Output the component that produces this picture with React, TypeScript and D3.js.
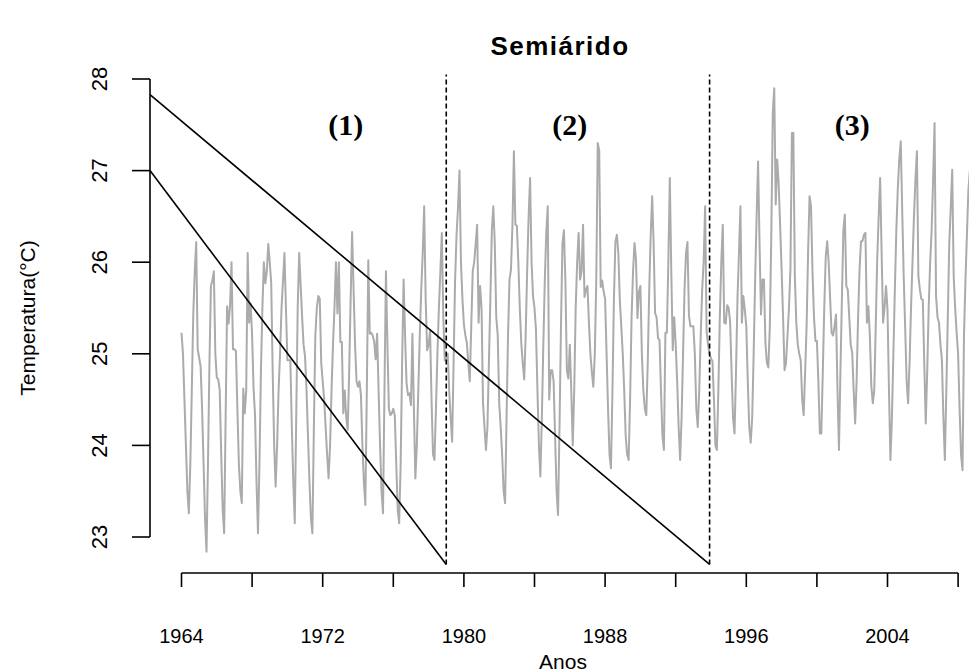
import React from 'react';
import * as d3 from 'd3';

// ---- data (monthly mean temperature, Jan 1964 onward) ----
const startYear = 1964;
const temperature: number[] = [
  // 1964
  25.23, 25.0, 24.5, 24.0, 23.5, 23.26, 23.8, 24.6, 25.43, 25.9, 26.22, 25.05,
  // 1965
  24.96, 24.86, 24.4, 23.8, 23.2, 22.84, 23.8, 24.9, 25.74, 25.8, 25.9, 25.0,
  // 1966
  24.74, 24.72, 24.6, 23.9, 23.3, 23.04, 24.3, 25.52, 25.33, 25.52, 26.0, 25.05,
  // 1967
  25.05, 25.03, 24.4, 23.8, 23.5, 23.37, 24.62, 24.35, 24.6, 26.1, 25.34, 25.55,
  // 1968
  25.2, 24.62, 24.33, 23.6, 23.04, 23.8, 24.8, 25.5, 26.0, 25.77, 25.9, 26.2,
  // 1969
  26.0, 25.77, 24.8, 24.0, 23.55, 24.0, 24.6, 25.0, 25.5, 25.8, 26.1, 25.5,
  // 1970
  24.93, 24.93, 24.93, 24.2, 23.6, 23.15, 24.3, 25.5, 26.1, 25.75, 25.4, 25.1,
  // 1971
  24.97, 24.6, 24.1, 23.6, 23.2, 23.04, 24.2, 25.2, 25.5, 25.63, 25.6, 24.9,
  // 1972
  24.7, 24.5, 24.2, 23.9, 23.64, 24.0, 24.6, 25.1, 25.5, 26.0, 25.44, 26.0,
  // 1973
  25.13, 25.13, 24.35, 24.6, 24.3, 24.17, 24.8, 25.6, 26.33, 25.7, 25.1, 24.7,
  // 1974
  24.64, 24.7, 24.55, 24.0, 23.6, 23.35, 24.6, 26.02, 25.22, 25.23, 25.2, 25.13,
  // 1975
  24.94, 25.22, 24.6, 24.0, 23.5, 23.26, 24.6, 25.9, 25.1, 24.4, 24.33, 24.35,
  // 1976
  24.4, 24.33, 23.8, 23.3, 23.15, 23.8, 24.9, 25.81, 25.2, 24.68, 24.55, 24.57,
  // 1977
  24.44, 25.22, 24.4, 23.64, 24.0, 24.6, 25.2, 25.7, 26.1, 26.61, 25.6, 25.04,
  // 1978
  25.1, 25.25, 24.5, 23.9, 23.84, 24.4, 25.0, 25.5, 25.9, 26.32, 25.4, 24.93,
  // 1979
  24.95, 25.0, 24.6, 24.3, 24.04, 24.9, 25.8, 26.3, 26.6, 27.0, 26.0, 25.6,
  // 1980
  25.32, 25.2, 25.12, 24.9, 24.7, 25.3, 25.9, 26.0, 26.2, 26.41, 25.34, 25.74,
  // 1981
  25.5, 24.46, 24.2, 23.95, 24.2, 24.9, 25.6, 26.35, 26.61, 26.2, 25.4, 25.2,
  // 1982
  24.46, 24.2, 23.9, 23.5, 23.37, 24.3, 25.2, 25.81, 25.92, 26.4, 27.21, 26.41,
  // 1983
  26.4, 26.0, 25.5, 25.12, 24.9, 24.72, 25.2, 25.9, 26.5, 26.92, 26.0, 25.63,
  // 1984
  25.5, 25.26, 24.6, 24.0, 23.66, 24.3, 25.1, 25.8, 26.32, 26.61, 24.5, 24.82,
  // 1985
  24.82, 24.7, 24.1, 23.5, 23.24, 24.2, 25.3, 26.2, 26.35, 25.8, 24.82, 24.73,
  // 1986
  25.1, 24.6, 24.0, 24.6, 25.5, 26.0, 26.32, 25.81, 25.9, 26.41, 25.62, 25.7,
  // 1987
  25.74, 25.34, 25.0, 24.8, 24.64, 25.0, 25.8, 27.3, 27.22, 25.73, 25.8, 25.68,
  // 1988
  25.6, 25.0, 24.4, 23.9, 23.75, 24.6, 25.6, 26.22, 26.3, 26.1, 25.59, 25.3,
  // 1989
  25.0, 24.6, 24.1, 23.9, 23.84, 24.5, 25.4, 25.9, 26.21, 26.03, 25.39, 25.68,
  // 1990
  25.74, 25.0, 24.6, 24.4, 24.33, 24.9, 25.7, 26.3, 26.72, 26.2, 25.44, 25.4,
  // 1991
  25.17, 25.15, 24.6, 24.1, 23.95, 25.23, 25.23, 26.0, 26.92, 25.9, 25.04, 25.4,
  // 1992
  25.1, 24.7, 24.2, 23.84, 24.3, 25.0, 25.7, 26.1, 26.22, 25.42, 25.3, 25.3,
  // 1993
  25.3, 25.0, 24.4, 24.2, 24.6, 25.2, 25.7, 26.0, 26.61, 25.24, 25.1, 25.0,
  // 1994
  24.95, 24.92, 24.5, 24.0, 23.95, 24.6, 25.4, 26.0, 26.41, 25.34, 25.33, 25.53,
  // 1995
  25.5, 25.35, 24.8, 24.3, 24.13, 24.8, 25.6, 26.1, 26.61, 25.34, 25.63, 25.48,
  // 1996
  25.3, 24.7, 24.2, 24.03, 24.3, 25.0, 25.8, 26.5, 27.1, 26.2, 25.43, 25.81,
  // 1997
  25.81, 25.12, 24.9, 24.85, 25.3, 26.3, 27.63, 27.9, 26.63, 27.12, 26.86, 26.4,
  // 1998
  25.92, 25.4, 24.82, 24.9, 25.2, 25.5, 25.92, 27.41, 27.41, 25.85, 25.34, 25.1,
  // 1999
  25.0, 24.93, 24.5, 24.33, 24.8, 25.3, 26.1, 26.72, 26.61, 25.9, 25.41, 25.14,
  // 2000
  25.14, 24.7, 24.13, 24.13, 24.8, 25.5, 26.06, 26.23, 26.0, 25.6, 25.23, 25.2,
  // 2001
  25.3, 25.43, 24.6, 23.95, 24.8, 25.6, 26.35, 26.52, 25.74, 25.7, 25.4, 25.1,
  // 2002
  25.01, 24.6, 24.24, 24.7, 25.4, 25.92, 26.23, 26.23, 26.3, 26.32, 25.34, 25.52,
  // 2003
  25.2, 24.65, 24.46, 24.6, 25.3, 26.03, 26.5, 26.92, 26.1, 25.34, 25.5, 25.74,
  // 2004
  25.48, 24.6, 23.84, 24.3, 25.0, 25.7, 26.35, 26.8, 27.12, 27.32, 26.57, 25.85,
  // 2005
  25.3, 24.7, 24.46, 24.9, 25.5, 26.0, 26.5, 26.9, 27.21, 25.85, 25.7, 25.6,
  // 2006
  25.59, 24.9, 24.24, 24.8, 25.5, 26.0, 26.35, 26.9, 27.52, 25.63, 25.4, 25.34,
  // 2007
  25.1, 24.93, 24.3, 23.84, 24.6, 25.4, 26.2, 26.6, 27.01, 25.85, 25.5, 25.23,
  // 2008
  25.0, 24.4, 23.9, 23.73, 25.2, 25.8, 26.3, 26.79, 27.0,
];

const yTicks = [23, 24, 25, 26, 27, 28];
const xTicks = [1964, 1968, 1972, 1976, 1980, 1984, 1988, 1992, 1996, 2000, 2004, 2008];
const xTickLabels = [1964, 1972, 1980, 1988, 1996, 2004];

// change points (dashed verticals)
const breakYears = [1979.0, 1993.92];
const breakLow = 22.7;
const breakHigh = 28.05;

// decreasing guide lines, endpoints in data units
const guideStartYear = [1962.215, 1962.215];
const guideStartTemp = [27.83, 27.0];
const guideEndYear = [1993.92, 1979.0];
const guideEndTemp = [22.7, 22.7];

const periodLabels = ['(1)', '(2)', '(3)'];
const periodLabelYears = [1973.3, 1986.0, 2002.0];
const periodLabelTemp = 27.5;

const title = 'Semiárido';
const xTitle = 'Anos';
const yTitle = 'Temperatura(°C)';

export default function App() {
  const W = 969;
  const H = 672;
  const x = d3.scaleLinear().domain([1964, 2008]).range([181.5, 181.5 + 44 * 17.65]);
  const y = d3.scaleLinear().domain([23, 28]).range([537, 79]);

  const pts: [number, number][] = temperature.map((v, i) => [startYear + i / 12, v]);
  const line = d3
    .line<[number, number]>()
    .x((d) => x(d[0]))
    .y((d) => y(d[1]));

  const axisX = 150;
  const axisY = 573;
  const sans = "'Liberation Sans', Arial, sans-serif";
  const serif = "'Liberation Serif', 'Times New Roman', serif";

  return (
    <svg
      width={W}
      height={H}
      viewBox={`0 0 ${W} ${H}`}
      style={{ position: 'absolute', left: 0, top: 0, background: '#fff' }}
    >
      <rect x={0} y={0} width={W} height={H} fill="#fff" />
      {/* data */}
      <path d={line(pts) || ''} fill="none" stroke="#ababab" strokeWidth={2} strokeLinejoin="round" />

      {/* guide lines */}
      {guideStartYear.map((gx, i) => (
        <line
          key={'g' + i}
          x1={x(gx)}
          y1={y(guideStartTemp[i])}
          x2={x(guideEndYear[i])}
          y2={y(guideEndTemp[i])}
          stroke="#000"
          strokeWidth={1.6}
        />
      ))}

      {/* change point dashed lines */}
      {breakYears.map((b, i) => (
        <line
          key={'b' + i}
          x1={x(b)}
          x2={x(b)}
          y1={y(breakLow)}
          y2={y(breakHigh)}
          stroke="#000"
          strokeWidth={1.6}
          strokeDasharray="5,3"
        />
      ))}

      {/* period labels */}
      {periodLabels.map((lab, i) => (
        <text
          key={'p' + i}
          x={x(periodLabelYears[i])}
          y={y(periodLabelTemp)}
          dy="0.35em"
          textAnchor="middle"
          fontFamily={serif}
          fontWeight="bold"
          fontSize={30}
        >
          {lab}
        </text>
      ))}

      {/* y axis */}
      <line x1={axisX} x2={axisX} y1={y(28)} y2={y(23)} stroke="#000" strokeWidth={1.6} />
      {yTicks.map((t) => (
        <g key={'yt' + t}>
          <line x1={axisX - 18} x2={axisX} y1={y(t)} y2={y(t)} stroke="#000" strokeWidth={1.6} />
          <text
            transform={`translate(${107},${y(t)}) rotate(-90)`}
            textAnchor="middle"
            fontFamily={sans}
            fontSize={22}
          >
            {t}
          </text>
        </g>
      ))}

      {/* x axis */}
      <line x1={x(1964)} x2={x(2008)} y1={axisY} y2={axisY} stroke="#000" strokeWidth={1.6} />
      {xTicks.map((t) => (
        <line key={'xt' + t} x1={x(t)} x2={x(t)} y1={axisY} y2={axisY + 14} stroke="#000" strokeWidth={1.6} />
      ))}
      {xTickLabels.map((t) => (
        <text key={'xl' + t} x={x(t)} y={643} textAnchor="middle" fontFamily={sans} fontSize={20}>
          {t}
        </text>
      ))}

      {/* titles */}
      <text x={560} y={55} textAnchor="middle" fontFamily={sans} fontWeight="bold" fontSize={26} letterSpacing={1.5}>
        {title}
      </text>
      <text x={563} y={669} textAnchor="middle" fontFamily={sans} fontSize={21}>
        {xTitle}
      </text>
      <text
        transform={`translate(${35},${318}) rotate(-90)`}
        textAnchor="middle"
        fontFamily={sans}
        fontSize={21}
      >
        {yTitle}
      </text>
    </svg>
  );
}
